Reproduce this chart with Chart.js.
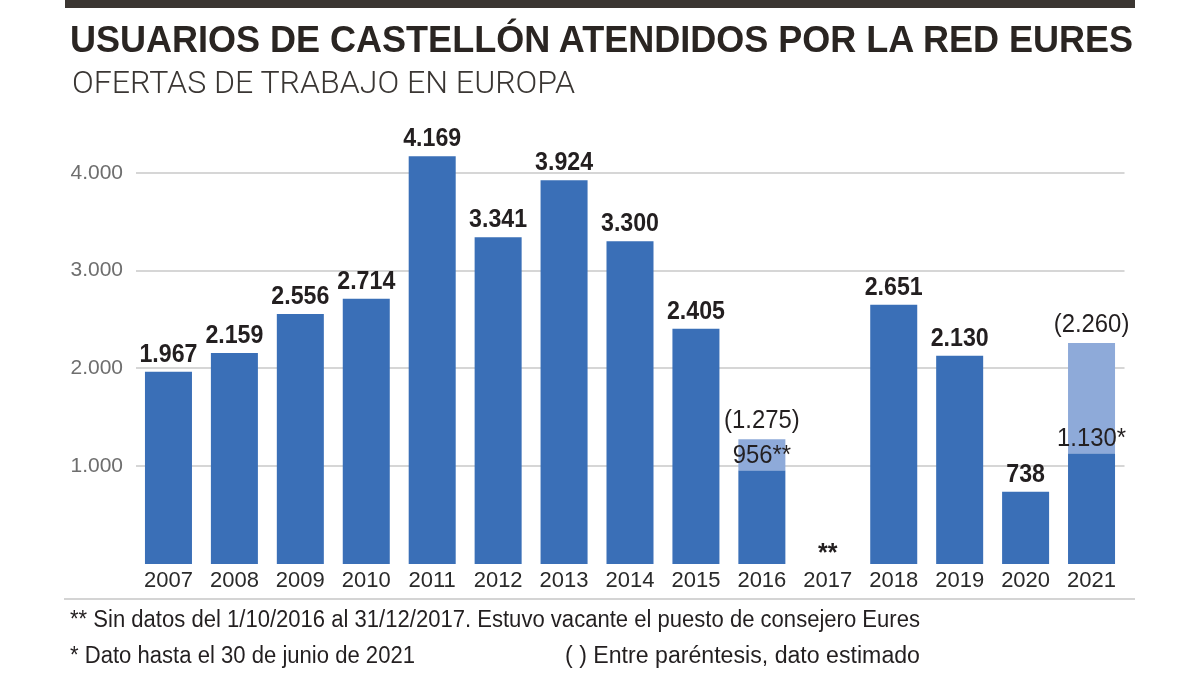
<!DOCTYPE html>
<html><head><meta charset="utf-8">
<script src="https://cdn.jsdelivr.net/npm/chart.js@4.4.1/dist/chart.umd.min.js"></script>
<style>
html,body{margin:0;padding:0;background:#fff;}
#wrap{position:relative;width:1200px;height:675px;overflow:hidden;background:#fff;}
canvas{position:absolute;left:0;top:0;}
.t{position:absolute;white-space:nowrap;line-height:1;transform-origin:0 0;}
</style></head><body>
<div id="wrap">
<canvas id="c" width="1200" height="675"></canvas>
<div style="position:absolute;left:65px;top:0;width:1070px;height:8px;background:#3b3632"></div>
<div class="t" data-w="1063" style="left:70px;top:18.7px;font:bold 37px 'Liberation Sans',Arial,sans-serif;color:#2a2522">USUARIOS DE CASTELLÓN ATENDIDOS POR LA RED EURES</div>
<div class="t" data-w="503" style="left:72px;top:64px;font:300 31px Roboto,'Liberation Sans',sans-serif;color:#3a3633">OFERTAS DE TRABAJO EN EUROPA</div>
<div style="position:absolute;left:64px;top:598px;width:1071px;height:2px;background:#d4d4d4"></div>
<div class="t" data-w="850" style="left:70px;top:605.5px;font:400 23.5px 'Liberation Sans Narrow','Liberation Sans',sans-serif;color:#231f20">** Sin datos del 1/10/2016 al 31/12/2017. Estuvo vacante el puesto de consejero Eures</div>
<div class="t" data-w="345" style="left:70px;top:642px;font:400 23.5px 'Liberation Sans Narrow','Liberation Sans',sans-serif;color:#231f20">* Dato hasta el 30 de junio de 2021</div>
<div class="t" data-w="355" style="left:565px;top:642px;font:400 23.5px 'Liberation Sans Narrow','Liberation Sans',sans-serif;color:#231f20">( ) Entre paréntesis, dato estimado</div>
</div>
<script>
// ---- data ----
const categories = ['2007','2008','2009','2010','2011','2012','2013','2014','2015','2016','2017','2018','2019','2020','2021'];
const confirmed  = [1967, 2159, 2556, 2714, 4169, 3341, 3924, 3300, 2405, 956, null, 2651, 2130, 738, 1130];
const estimated  = [null, null, null, null, null, null, null, null, null, 1275, null, null, null, null, 2260];
const notes      = ['', '', '', '', '', '', '', '', '', '**', '**', '', '', '', '*'];
const yTicks     = [1000, 2000, 3000, 4000];

const fmt = n => String(n).replace(/\B(?=(\d{3})+(?!\d))/g, '.');
const extra = estimated.map((e, i) => e == null ? null : e - confirmed[i]);

function drawText(ctx, s, x, y, font, sx) {
  ctx.save();
  ctx.translate(x, y);
  ctx.scale(sx, 1);
  ctx.font = font;
  ctx.fillText(s, 0, 0);
  ctx.restore();
}

const labelPlugin = {
  id: 'vals',
  afterDatasetsDraw(chart) {
    const ctx = chart.ctx, xs = chart.scales.x, ys = chart.scales.y;
    ctx.save();
    ctx.fillStyle = '#231f20';
    ctx.textAlign = 'center';
    ctx.textBaseline = 'alphabetic';
    const bold = "bold 26.5px 'Liberation Sans', Arial, sans-serif";
    const reg = "400 26.5px 'Liberation Sans', Arial, sans-serif";
    categories.forEach((c, i) => {
      const x = xs.getPixelForValue(i);
      const v = confirmed[i];
      if (v == null) {
        drawText(ctx, notes[i], x, ys.getPixelForValue(0) - 3, "bold 25px 'Liberation Sans', sans-serif", 1);
        return;
      }
      const top = ys.getPixelForValue(v);
      if (estimated[i] != null) {
        drawText(ctx, '(' + fmt(estimated[i]) + ')', x, ys.getPixelForValue(estimated[i]) - 11, reg, 0.9);
        drawText(ctx, fmt(v) + notes[i], x, top - 7.5, reg, 0.9);
      } else {
        drawText(ctx, fmt(v) + notes[i], x, top - 10, bold, 0.875);
      }
    });
    ctx.restore();
  }
};

const bgPlugin = {
  id: 'bg',
  beforeDraw(chart) {
    const ctx = chart.ctx;
    ctx.save(); ctx.fillStyle = '#fff'; ctx.fillRect(0, 0, chart.width, chart.height); ctx.restore();
  }
};

new Chart(document.getElementById('c'), {
  type: 'bar',
  data: {
    labels: categories,
    datasets: [
      { data: confirmed, backgroundColor: '#3a6fb7', stack: 's', barPercentage: 0.713, categoryPercentage: 1 },
      { data: extra, backgroundColor: '#8eaad9', stack: 's', barPercentage: 0.713, categoryPercentage: 1 }
    ]
  },
  options: {
    responsive: false,
    animation: false,
    layout: { padding: { top: 124, right: 75.5, left: 0, bottom: 0 } },
    plugins: { legend: { display: false }, tooltip: { enabled: false } },
    scales: {
      x: {
        stacked: true,
        grid: { display: false, drawTicks: false },
        border: { display: false },
        ticks: { color: '#2a2a2a', padding: 3.5, maxRotation: 0, autoSkip: false,
                 font: { family: "'Liberation Sans', sans-serif", size: 22 } },
        afterFit(scale) { scale.height = 111; }
      },
      y: {
        stacked: true,
        min: 0, max: 4500,
        grid: { color: '#d6d6d6', lineWidth: 2, drawTicks: false },
        border: { display: false },
        ticks: { color: '#6e6e6e', padding: 12.5,
                 font: { family: "'Liberation Sans', Arial, sans-serif", size: 21 },
                 callback: v => fmt(v) },
        afterBuildTicks(scale) { scale.ticks = yTicks.map(v => ({ value: v })); },
        afterFit(scale) { scale.width = 135.5; }
      }
    }
  },
  plugins: [bgPlugin, labelPlugin]
});

function fit() {
  document.querySelectorAll('.t[data-w]').forEach(el => {
    el.style.transform = 'none';
    const w = el.getBoundingClientRect().width;
    el.style.transform = 'scaleX(' + (parseFloat(el.dataset.w) / w) + ')';
  });
}
fit();
if (document.fonts && document.fonts.ready) document.fonts.ready.then(fit);
</script>
</body></html>
